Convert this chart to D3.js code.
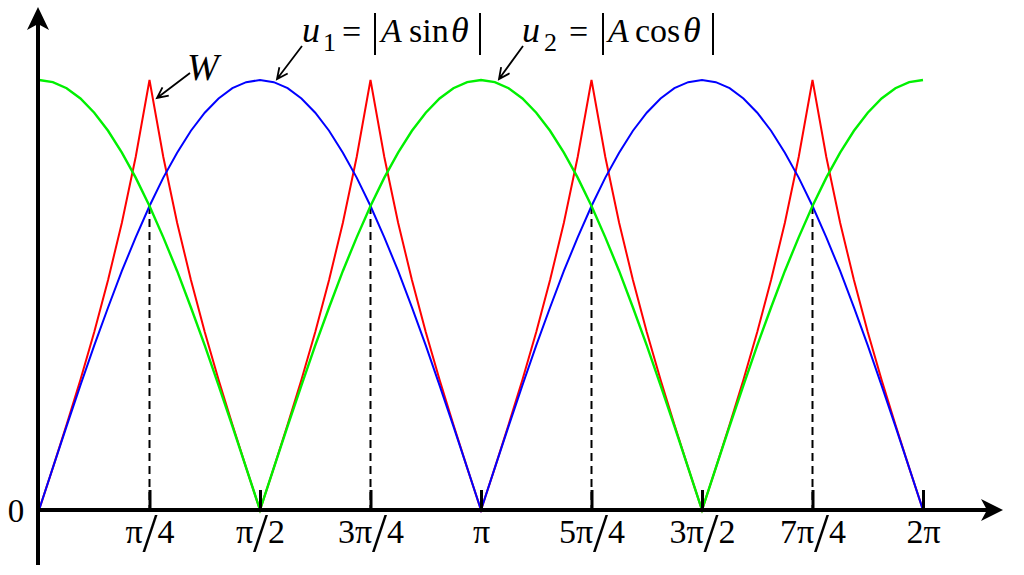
<!DOCTYPE html>
<html>
<head>
	<meta charset="utf-8">
	<title></title>
	<style type="text/css">
        body{
            padding:0;
            margin:0;
            overflow: hidden;
            background:#fff;
        }
        text{ font-family:"Times New Roman","Liberation Serif",serif; fill:#000; }
	</style>
</head>
<body>

<div id='svg-chart'></div>

<script type="text/javascript" src='https://cdn.jsdelivr.net/npm/d3@7/dist/d3.min.js'></script>
<script type="text/javascript">

// samples every pi/32 from 0 to 2pi (index = step)
var u1 = [0,.098,.195,.290,.383,.471,.556,.634,.707,.773,.831,.882,.924,.957,.981,.995,1,
          .995,.981,.957,.924,.882,.831,.773,.707,.634,.556,.471,.383,.290,.195,.098,0,
          .098,.195,.290,.383,.471,.556,.634,.707,.773,.831,.882,.924,.957,.981,.995,1,
          .995,.981,.957,.924,.882,.831,.773,.707,.634,.556,.471,.383,.290,.195,.098,0];

var u2 = [1,.995,.981,.957,.924,.882,.831,.773,.707,.634,.556,.471,.383,.290,.195,.098,0,
          .098,.195,.290,.383,.471,.556,.634,.707,.773,.831,.882,.924,.957,.981,.995,1,
          .995,.981,.957,.924,.882,.831,.773,.707,.634,.556,.471,.383,.290,.195,.098,0,
          .098,.195,.290,.383,.471,.556,.634,.707,.773,.831,.882,.924,.957,.981,.995,1];

var w = [0,.098,.199,.303,.414,.535,.668,.821,1,.821,.668,.535,.414,.303,.199,.098,0,
         .098,.199,.303,.414,.535,.668,.821,1,.821,.668,.535,.414,.303,.199,.098,0,
         .098,.199,.303,.414,.535,.668,.821,1,.821,.668,.535,.414,.303,.199,.098,0,
         .098,.199,.303,.414,.535,.668,.821,1,.821,.668,.535,.414,.303,.199,.098,0];

var tickSteps  = [8,16,24,32,40,48,56,64];
var tickLabels = ["π/4","π/2","3π/4","π","5π/4","3π/2","7π/4","2π"];
var dashSteps  = [8,24,40,56];   // where u1 and u2 cross

var width = 1024, height = 575;

var xScale = d3.scaleLinear().domain([0, 64]).range([39, 923]);
var yScale = d3.scaleLinear().domain([0, 1]).range([510, 80]);

var svg = d3.select('#svg-chart')
    .append('svg')
    .attr('width', width)
    .attr('height', height);

/*---------------- dashed guide lines ----------------*/
svg.selectAll('line.guide')
    .data(dashSteps)
    .enter()
    .append('line')
    .attr('class','guide')
    .attr('x1', d=>xScale(d)).attr('x2', d=>xScale(d))
    .attr('y1', d=>yScale(u1[d])).attr('y2', yScale(0))
    .style('stroke','#000')
    .style('stroke-width',2)
    .style('stroke-dasharray','8,5');

/*---------------- curves ----------------*/
var line = d3.line()
    .x((d,i)=>xScale(i))
    .y(d=>yScale(d));

[[w,'#ff0000',2],[u1,'#0000ff',2],[u2,'#00f000',2.4]].forEach(function(s){
    svg.append('path')
        .datum(s[0])
        .attr('d', line)
        .style('fill','none')
        .style('stroke', s[1])
        .style('stroke-width', s[2])
        .style('stroke-linejoin','miter');
});

/*---------------- axes ----------------*/
var xAxis = d3.axisBottom(xScale)
    .tickValues(tickSteps)
    .tickSizeInner(-20)
    .tickSizeOuter(0)
    .tickFormat((d,i)=>tickLabels[i]);

var gx = svg.append('g')
    .attr('transform','translate(0,' + yScale(0) + ')')
    .call(xAxis);

gx.select('.domain').remove();
gx.selectAll('.tick line').style('stroke','#000').style('stroke-width',3);
gx.selectAll('.tick text').each(function(d,i){
    var t = d3.select(this).text('')
        .attr('y', 33).attr('dy', 0)
        .style('font-size','34px')
        .attr('text-anchor','middle');
    var parts = tickLabels[i].split('/');
    t.append('tspan').text(parts[0]);
    if(parts.length > 1){
        t.append('tspan').text('/').style('font-size','54px').attr('dy', 8);
        t.append('tspan').text(parts[1]).attr('dy', -8);
    }
});

// axis lines with arrow heads
svg.append('line')
    .attr('x1', 36).attr('x2', 992)
    .attr('y1', yScale(0)).attr('y2', yScale(0))
    .style('stroke','#000').style('stroke-width',4);
svg.append('path')
    .attr('d','M1003,510 L981,499 L987,510 L981,521 Z')
    .style('fill','#000');

svg.append('line')
    .attr('x1', 38).attr('x2', 38)
    .attr('y1', 565).attr('y2', 20)
    .style('stroke','#000').style('stroke-width',4);
svg.append('path')
    .attr('d','M38,7 L27,30 L38,24 L49,30 Z')
    .style('fill','#000');

svg.append('text')
    .attr('x', 16).attr('y', 522)
    .attr('text-anchor','middle')
    .style('font-size','33px')
    .text('0');

/*---------------- annotations ----------------*/
function arrow(x1,y1,x2,y2){
    var a = Math.atan2(y1-y2, x1-x2), len = 12, sp = 0.45;
    svg.append('path')
        .attr('d', 'M'+x1+','+y1+' L'+x2+','+y2 +
              ' M'+(x2+len*Math.cos(a+sp))+','+(y2+len*Math.sin(a+sp))+' L'+x2+','+y2 +
              ' L'+(x2+len*Math.cos(a-sp))+','+(y2+len*Math.sin(a-sp)))
        .style('fill','none')
        .style('stroke','#000')
        .style('stroke-width',1.8);
}

function piece(x,y,txt,size,italic){
    svg.append('text')
        .attr('x',x).attr('y',y)
        .style('font-size', size+'px')
        .style('font-style', italic ? 'italic' : 'normal')
        .text(txt);
}
function bar(x){
    svg.append('line')
        .attr('x1',x).attr('x2',x).attr('y1',13).attr('y2',55)
        .style('stroke','#000').style('stroke-width',2);
}

// W
piece(187, 80, 'W', 38, true);
arrow(190, 73, 157, 98);

// u1 = |A sin θ|
piece(302, 42, 'u', 36, true);
piece(323, 51, '1', 26, false);
piece(342, 43, '=', 34, false);
bar(375);
piece(381, 42, 'A', 34, true);
piece(409, 42, 'sin', 34, false);
piece(451, 42, 'θ', 36, true);
bar(480);
arrow(302, 46, 277, 79);

// u2 = |A cos θ|
piece(522, 42, 'u', 36, true);
piece(544, 51, '2', 26, false);
piece(569, 43, '=', 34, false);
bar(603);
piece(608, 42, 'A', 34, true);
piece(635, 42, 'cos', 34, false);
piece(683, 42, 'θ', 36, true);
bar(713);
arrow(523, 46, 499, 79);

</script>

</body>
</html>
